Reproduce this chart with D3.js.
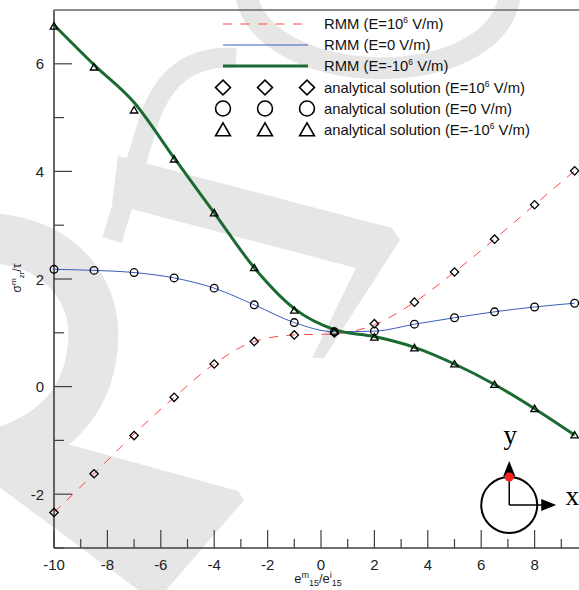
<!DOCTYPE html>
<html>
<head>
<meta charset="utf-8">
<script src="https://cdn.jsdelivr.net/npm/d3@7"></script>
<style>
  body { margin: 0; background: #fff; }
  svg { display: block; font-family: "Liberation Sans", Arial, sans-serif; }
</style>
</head>
<body>
<div id="chart"></div>
<script>
// x positions of the samples
const xVals = [-10, -8.5, -7, -5.5, -4, -2.5, -1, 0.5, 2, 3.5, 5, 6.5, 8, 9.5];

// analytical solution (markers)
const anaPos  = [-2.34, -1.62, -0.91, -0.20, 0.42, 0.84, 0.96, 1.00, 1.17, 1.57, 2.13, 2.74, 3.38, 4.01];
const anaZero = [2.18, 2.16, 2.12, 2.02, 1.83, 1.52, 1.19, 1.02, 1.03, 1.16, 1.28, 1.39, 1.48, 1.55];
const anaNeg  = [6.70, 5.94, 5.14, 4.23, 3.23, 2.21, 1.42, 1.03, 0.92, 0.72, 0.42, 0.04, -0.41, -0.90];

// RMM results (lines)
const rmmPos  = [-2.34, -1.62, -0.88, -0.20, 0.42, 0.84, 0.96, 0.98, 1.15, 1.57, 2.13, 2.74, 3.38, 4.01];
const rmmZero = [2.18, 2.16, 2.12, 2.02, 1.83, 1.52, 1.19, 1.02, 1.03, 1.16, 1.28, 1.39, 1.48, 1.55];
const rmmNeg  = [6.72, 5.98, 5.28, 4.25, 3.23, 2.21, 1.45, 1.06, 0.93, 0.73, 0.42, 0.04, -0.41, -0.90];

const xMajor = [-10, -8, -6, -4, -2, 0, 2, 4, 6, 8];
const xMinor = [-9, -7, -5, -3, -1, 1, 3, 5, 7, 9];
const yMajor = [-2, 0, 2, 4, 6];
const yMinor = [-3, -1, 1, 3, 5];

const width = 579, height = 590;
const axisColor = "#404040";

let svg = d3.select("#chart").append("svg")
    .attr("width", width)
    .attr("height", height);

// background watermark (decoration only)
const wmColor = "#e6e6e6";
let wm = svg.append("g").attr("fill", "none").attr("stroke", wmColor);
wm.append("path").attr("d", "M246,-5 C265,90 495,95 510,-5").attr("stroke-width", 22);
wm.append("path").attr("d", "M236,58 C190,55 160,78 146,130 L112,240").attr("stroke-width", 20);
wm.append("path").attr("d", "M-10,238 C60,242 98,290 93,345 C88,405 50,440 -10,456").attr("stroke-width", 50);
let wmf = svg.append("g").attr("fill", wmColor);
wmf.append("path").attr("d", "M118,156 L392,228 L400,240 L324,358 L312,358 L356,268 L112,204 Z");
wmf.append("path").attr("d", "M-5,424 L238,491 L244,500 L162,595 L145,595 L-5,484 Z");

//Mapping functions for each of x,y
let xScale = d3.scaleLinear().domain([-10, 10]).range([54, 588]);
let yScale = d3.scaleLinear().domain([-3, 7]).range([548, 10]);

let x0 = xScale(-10), yB = yScale(-3), yT = yScale(7);

// frame
svg.append("line").attr("x1", x0).attr("x2", width).attr("y1", yT).attr("y2", yT)
    .attr("stroke", "#666").attr("stroke-width", 1.5);

// ticks
let ticks = svg.append("g").attr("stroke", axisColor).attr("stroke-width", 1.2);
ticks.selectAll(".xmaj").data(xMajor).join("line")
    .attr("x1", d => xScale(d)).attr("x2", d => xScale(d))
    .attr("y1", yB).attr("y2", yB - 18);
ticks.selectAll(".xmin").data(xMinor).join("line")
    .attr("x1", d => xScale(d)).attr("x2", d => xScale(d))
    .attr("y1", yB).attr("y2", yB - 9);
ticks.selectAll(".ymaj").data(yMajor).join("line")
    .attr("y1", d => yScale(d)).attr("y2", d => yScale(d))
    .attr("x1", x0).attr("x2", x0 + 18);
ticks.selectAll(".ymin").data(yMinor).join("line")
    .attr("y1", d => yScale(d)).attr("y2", d => yScale(d))
    .attr("x1", x0).attr("x2", x0 + 10);

svg.append("line").attr("x1", x0).attr("x2", x0).attr("y1", yT).attr("y2", yB)
    .attr("stroke", axisColor).attr("stroke-width", 1.6);
svg.append("line").attr("x1", x0).attr("x2", width).attr("y1", yB).attr("y2", yB)
    .attr("stroke", axisColor).attr("stroke-width", 1.6);

// tick labels
svg.append("g").selectAll("text").data(xMajor).join("text")
    .attr("x", d => xScale(d)).attr("y", 570)
    .attr("text-anchor", "middle").attr("font-size", 15).attr("fill", "#222")
    .text(d => d);
svg.append("g").selectAll("text").data(yMajor).join("text")
    .attr("x", 44).attr("y", d => yScale(d) + 5.5)
    .attr("text-anchor", "end").attr("font-size", 15).attr("fill", "#222")
    .text(d => d);

// axis titles
let xt = svg.append("text").attr("x", 318).attr("y", 583)
    .attr("text-anchor", "middle").attr("font-size", 13).attr("fill", "#222");
xt.append("tspan").text("e");
xt.append("tspan").attr("font-size", 9).attr("dy", -5).text("m");
xt.append("tspan").attr("font-size", 9).attr("dy", 8).text("15");
xt.append("tspan").attr("dy", -3).text("/e");
xt.append("tspan").attr("font-size", 9).attr("dy", -5).text("i");
xt.append("tspan").attr("font-size", 9).attr("dy", 8).text("15");

let yt = svg.append("text").attr("transform", "translate(21,278) rotate(-90)")
    .attr("text-anchor", "middle").attr("font-size", 12).attr("fill", "#222");
yt.append("tspan").text("σ");
yt.append("tspan").attr("font-size", 8).attr("dy", -5).text("m");
yt.append("tspan").attr("font-size", 8).attr("dy", 8).text("zr");
yt.append("tspan").attr("dy", -3).text("/τ");

//Line function, maps x,value to cords
const toPts = vals => vals.map((v, i) => ({x: xVals[i], y: v}));
let line = d3.line()
    .x(d => xScale(d.x))
    .y(d => yScale(d.y))
    .curve(d3.curveMonotoneX);

const series = [
    {line: rmmPos,  ana: anaPos,  color: "#ff4545", w: 1, dash: "9,8.5", sym: "diamond",  label: "E=10"},
    {line: rmmZero, ana: anaZero, color: "#3a5fc0", w: 1, dash: null,    sym: "circle",   label: "E=0"},
    {line: rmmNeg,  ana: anaNeg,  color: "#1b6a32", w: 3, dash: null,    sym: "triangle", label: "E=-10"}
];

series.forEach(s => {
    svg.append("path").attr("d", line(toPts(s.line)))
        .attr("fill", "none").attr("stroke", s.color).attr("stroke-width", s.w)
        .attr("stroke-dasharray", s.dash);
});

// marker shapes: small in plot, big in legend
const symPath = (sym, big) => {
    if (sym === "diamond") return d3.symbol().type(d3.symbolSquare).size(big ? 112 : 35)();
    if (sym === "circle") return d3.symbol().type(d3.symbolCircle).size(big ? 175 : 46)();
    return d3.symbol().type(d3.symbolTriangle).size(big ? 95 : 24)();
};
const symXf = (sym, big) => {
    if (sym === "diamond") return " rotate(45)";
    if (sym === "triangle") return ` translate(0,${big ? 1.5 : 0.8})`;
    return "";
};

series.forEach(s => {
    svg.append("g").selectAll("path").data(toPts(s.ana)).join("path")
        .attr("transform", d => `translate(${xScale(d.x)},${yScale(d.y)})` + symXf(s.sym, false))
        .attr("d", symPath(s.sym, false))
        .attr("fill", "none").attr("stroke", "#000").attr("stroke-width", 1.3);
});

// legend
const legLineY = [24, 45, 66];
const legSymY = [87.5, 108.5, 130];
const legText = (g, s, prefix, y) => {
    let t = g.append("text").attr("x", 324).attr("y", y + 5)
        .attr("font-size", 14.8).attr("fill", "#111");
    if (s.label === "E=0") {
        t.append("tspan").text(prefix + "(E=0 V/m)");
    } else {
        t.append("tspan").text(prefix + "(" + s.label);
        t.append("tspan").attr("font-size", 8.5).attr("dy", -6).text("6");
        t.append("tspan").attr("dy", 6).text(" V/m)");
    }
};
let leg = svg.append("g");
series.forEach((s, i) => {
    leg.append("line").attr("x1", 223).attr("x2", 308)
        .attr("y1", legLineY[i]).attr("y2", legLineY[i])
        .attr("stroke", s.color).attr("stroke-width", s.w).attr("stroke-dasharray", s.dash);
    legText(leg, s, "RMM ", legLineY[i]);
});
series.forEach((s, i) => {
    [223, 265, 307].forEach(px => {
        leg.append("path")
            .attr("transform", `translate(${px},${legSymY[i]})` + symXf(s.sym, true))
            .attr("d", symPath(s.sym, true))
            .attr("fill", "none").attr("stroke", "#000").attr("stroke-width", 1.6);
    });
    legText(leg, s, "analytical solution ", legSymY[i]);
});

// coordinate inset
const cx = xScale(7.05), cy = yScale(-2.2), r = 28;
let inset = svg.append("g");
inset.append("circle").attr("cx", cx).attr("cy", cy).attr("r", r)
    .attr("fill", "none").attr("stroke", "#000").attr("stroke-width", 2);
inset.append("line").attr("x1", cx).attr("y1", cy).attr("x2", cx).attr("y2", cy - r - 4)
    .attr("stroke", "#000").attr("stroke-width", 1.5);
inset.append("line").attr("x1", cx).attr("y1", cy).attr("x2", cx + r + 6).attr("y2", cy)
    .attr("stroke", "#000").attr("stroke-width", 1.5);
inset.append("path")
    .attr("d", `M${cx},${cy - r - 16} L${cx - 6},${cy - r - 1} L${cx + 6},${cy - r - 1} Z`)
    .attr("fill", "#000");
inset.append("path")
    .attr("d", `M${cx + r + 19},${cy} L${cx + r + 4},${cy - 6} L${cx + r + 4},${cy + 6} Z`)
    .attr("fill", "#000");
inset.append("circle").attr("cx", cx).attr("cy", cy - r).attr("r", 4.5).attr("fill", "#f22");
inset.append("text").attr("x", cx + 1).attr("y", cy - 61)
    .attr("text-anchor", "middle").attr("font-family", "Liberation Serif, Times New Roman, serif")
    .attr("font-size", 27).text("y");
inset.append("text").attr("x", cx + 63).attr("y", cy)
    .attr("text-anchor", "middle").attr("font-family", "Liberation Serif, Times New Roman, serif")
    .attr("font-size", 27).text("x");
</script>
</body>
</html>
